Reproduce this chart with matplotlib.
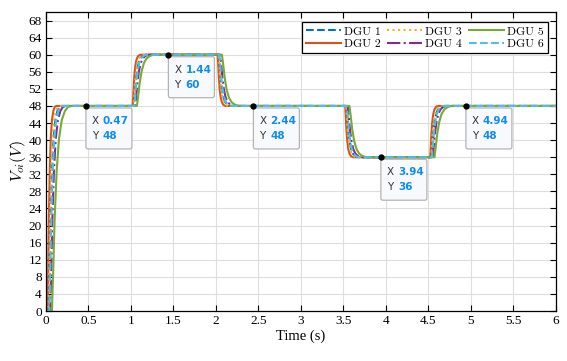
import numpy as np
import matplotlib
matplotlib.use('Agg')
import matplotlib.pyplot as plt
from matplotlib.patches import FancyBboxPatch
from matplotlib.transforms import ScaledTranslation

plt.rcParams['mathtext.fontset'] = 'cm'

# reference steps
step_times = [0, 1, 2, 3.5, 4.5]
step_levels = [0, 48, 60, 48, 36, 48]
t_end = 6

# normalised transition shape
shape_t = [0, 0.06, 0.14, 0.24, 0.36, 0.5, 0.66, 0.82, 1.0]
shape_v = [0, 0.18, 0.45, 0.68, 0.84, 0.93, 0.975, 0.995, 1.0]

# per-DGU delay and transition duration (s)
labels = ['DGU 1', 'DGU 2', 'DGU 3', 'DGU 4', 'DGU 5', 'DGU 6']
delays = [0.035, 0.02, 0.03, 0.05, 0.07, 0.04]
durations = [0.15, 0.10, 0.13, 0.18, 0.23, 0.16]
colors = ['#0072BD', '#D95319', '#EDB120', '#7E2F8E', '#77AC30', '#4DBEEE']
styles = ['--', '-', ':', '-.', '-', '--']

# data tips
tip_x = [0.47, 1.44, 2.44, 3.94, 4.94]
tip_y = [48, 60, 48, 36, 48]


def build_curve(d, T):
    t, v = [0.0], [0.0]
    for i, ts in enumerate(step_times):
        v0, v1 = step_levels[i], step_levels[i + 1]
        for st, sv in zip(shape_t, shape_v):
            t.append(ts + d + st * T)
            v.append(v0 + (v1 - v0) * sv)
    t.append(t_end)
    v.append(step_levels[-1])
    return t, v


fig = plt.figure(figsize=(5.67, 3.61), dpi=100)
ax = fig.add_axes([0.0811, 0.1385, 0.8995, 0.8283])

for lab, d, T, c, ls in zip(labels, delays, durations, colors, styles):
    t, v = build_curve(d, T)
    ax.plot(t, v, ls, color=c, lw=1.5, label=lab)

ax.set_xlim(0, 6)
ax.set_ylim(0, 70)
ax.set_xticks(np.arange(0, 6.01, 0.5))
ax.set_xticklabels(['0', '0.5', '1', '1.5', '2', '2.5', '3', '3.5', '4', '4.5', '5', '5.5', '6'])
ax.set_yticks(np.arange(0, 69, 4))
ax.grid(True, color='#dedede', lw=0.8)
ax.set_axisbelow(True)
ax.tick_params(direction='in', top=True, right=True, length=4, width=0.8,
               labelsize=9.5, pad=3)
for lbl in ax.get_xticklabels() + ax.get_yticklabels():
    lbl.set_family('Liberation Serif')
for s in ax.spines.values():
    s.set_linewidth(0.9)

ax.set_xlabel('Time (s)', family='Liberation Serif', fontsize=10.5, labelpad=2)
ax.set_ylabel('$V_{oi}(V)$', fontsize=11.5, labelpad=0)

leg = ax.legend(ncol=3, loc='upper right', bbox_to_anchor=(0.984, 0.966),
                prop={'family': 'cmr10', 'size': 8.5},
                fancybox=False, edgecolor='black', framealpha=1,
                handlelength=2.95, handletextpad=0.25, columnspacing=0.6,
                borderpad=0.35, labelspacing=0.2, borderaxespad=0)
leg.get_frame().set_linewidth(0.9)

# data tips
for x, y in zip(tip_x, tip_y):
    tr = ScaledTranslation(x, y, ax.transData)
    box = FancyBboxPatch((0, -43), 46, 41, boxstyle='round,pad=0,rounding_size=2',
                         transform=tr, facecolor='#f8f9fc', edgecolor='#b4b4b4',
                         lw=0.9, zorder=5, clip_on=False)
    ax.add_artist(box)
    ax.plot([x], [y], 'o', color='black', ms=3.5, zorder=6)
    ax.annotate('X', xy=(x, y), xytext=(6, -15), textcoords='offset pixels',
                va='center', ha='left', fontsize=7.5, color='#333333', zorder=7)
    ax.annotate('%g' % x, xy=(x, y), xytext=(17, -15), textcoords='offset pixels',
                va='center', ha='left', fontsize=7.5, color='#0f8cf5',
                fontweight='bold', zorder=7)
    ax.annotate('Y', xy=(x, y), xytext=(6, -30), textcoords='offset pixels',
                va='center', ha='left', fontsize=7.5, color='#333333', zorder=7)
    ax.annotate('%g' % y, xy=(x, y), xytext=(17, -30), textcoords='offset pixels',
                va='center', ha='left', fontsize=7.5, color='#0f8cf5',
                fontweight='bold', zorder=7)

fig.savefig('out.png', dpi=100)
